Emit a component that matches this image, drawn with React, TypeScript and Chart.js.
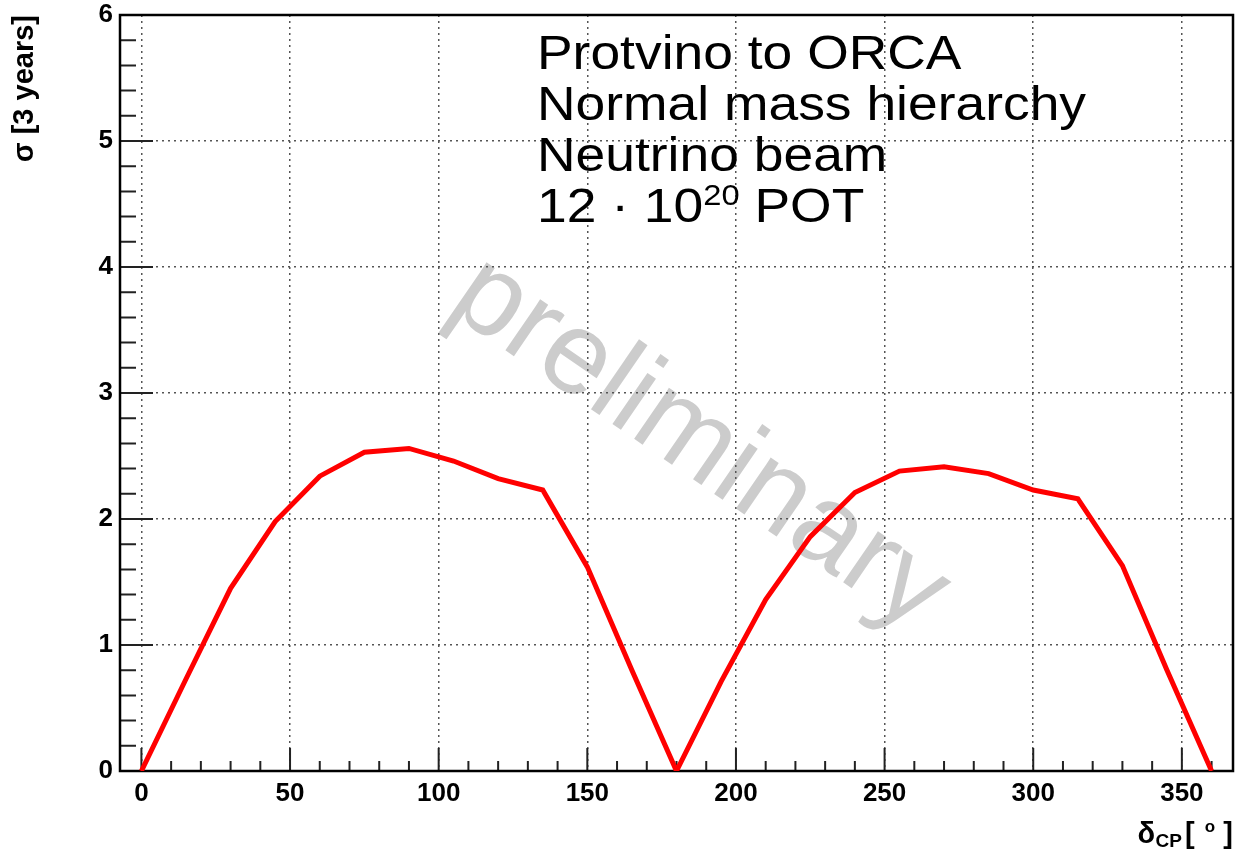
import React, { useEffect, useRef } from 'react';
import { Chart, registerables } from 'chart.js';

Chart.register(...registerables);

// ---- data ----
const deltaCP = [0, 15, 30, 45, 60, 75, 90, 105, 120, 135, 150, 165, 180, 195, 210, 225, 240, 255, 270, 285, 300, 315, 330, 345, 360];
const sigma = [0, 0.73, 1.45, 1.98, 2.34, 2.53, 2.56, 2.46, 2.32, 2.23, 1.62, 0.8, 0, 0.71, 1.36, 1.86, 2.21, 2.38, 2.415, 2.36, 2.23, 2.16, 1.63, 0.8, 0];

const xTickValues = [0, 50, 100, 150, 200, 250, 300, 350];
const yTickValues = [0, 1, 2, 3, 4, 5, 6];
const xMinorTicks = [10, 20, 30, 40, 60, 70, 80, 90, 110, 120, 130, 140, 160, 170, 180, 190, 210, 220, 230, 240, 260, 270, 280, 290, 310, 320, 330, 340, 360];
const yMinorTicks = [0.2, 0.4, 0.6, 0.8, 1.2, 1.4, 1.6, 1.8, 2.2, 2.4, 2.6, 2.8, 3.2, 3.4, 3.6, 3.8, 4.2, 4.4, 4.6, 4.8, 5.2, 5.4, 5.6, 5.8];

const annotationLines = ['Protvino to ORCA', 'Normal mass hierarchy', 'Neutrino beam'];
const potMantissa = '12 · 10';
const potExponent = '20';
const potUnit = ' POT';
const watermarkText = 'preliminary';
const yTitle = 'σ [3 years]';

const SANS = '"Liberation Sans", Arial, Helvetica, sans-serif';

function drawText(ctx: CanvasRenderingContext2D, text: string, x: number, y: number, font: string, sx = 1, align: CanvasTextAlign = 'left') {
  ctx.save();
  ctx.font = font;
  ctx.textAlign = align;
  ctx.textBaseline = 'alphabetic';
  ctx.translate(x, y);
  ctx.scale(sx, 1);
  ctx.fillText(text, 0, 0);
  const w = ctx.measureText(text).width * sx;
  ctx.restore();
  return w;
}

const rootPlugin = {
  id: 'rootStyle',
  beforeDraw(chart: any) {
    const { ctx, width, height } = chart;
    ctx.save();
    ctx.fillStyle = '#ffffff';
    ctx.fillRect(0, 0, width, height);
    // watermark
    ctx.translate(681, 471);
    ctx.rotate((34.5 * Math.PI) / 180);
    ctx.font = `117px ${SANS}`;
    ctx.fillStyle = '#cccccc';
    ctx.textAlign = 'center';
    ctx.textBaseline = 'alphabetic';
    ctx.fillText(watermarkText, 0, 0);
    ctx.restore();
  },
  beforeDatasetsDraw(chart: any) {
    const { ctx, chartArea } = chart;
    const xs = chart.scales.x;
    const ys = chart.scales.y;
    ctx.save();
    ctx.strokeStyle = '#222';
    ctx.lineWidth = 2;
    ctx.beginPath();
    xTickValues.forEach((v) => {
      const px = xs.getPixelForValue(v);
      ctx.moveTo(px, chartArea.bottom);
      ctx.lineTo(px, chartArea.bottom - 23);
    });
    xMinorTicks.forEach((v) => {
      const px = xs.getPixelForValue(v);
      ctx.moveTo(px, chartArea.bottom);
      ctx.lineTo(px, chartArea.bottom - 10);
    });
    yTickValues.forEach((v) => {
      const py = ys.getPixelForValue(v);
      ctx.moveTo(chartArea.left, py);
      ctx.lineTo(chartArea.left + 33, py);
    });
    yMinorTicks.forEach((v) => {
      const py = ys.getPixelForValue(v);
      ctx.moveTo(chartArea.left, py);
      ctx.lineTo(chartArea.left + 16, py);
    });
    ctx.stroke();
    // frame
    ctx.strokeStyle = '#000';
    ctx.lineWidth = 2.5;
    ctx.strokeRect(chartArea.left, chartArea.top, chartArea.right - chartArea.left, chartArea.bottom - chartArea.top);
    ctx.restore();
  },
  afterDraw(chart: any) {
    const { ctx } = chart;
    ctx.save();
    ctx.fillStyle = '#000';
    // annotation block
    const x0 = 537;
    const sx = 1.09;
    const bigFont = `49px ${SANS}`;
    const baselines = [69, 120, 171];
    annotationLines.forEach((t, i) => drawText(ctx, t, x0, baselines[i], bigFont, sx));
    let x = x0;
    x += drawText(ctx, potMantissa, x, 222, bigFont, sx);
    x += drawText(ctx, potExponent, x, 205, `30px ${SANS}`, sx);
    drawText(ctx, potUnit, x, 222, bigFont, sx);

    // y title (rotated)
    ctx.save();
    ctx.translate(33, 15);
    ctx.rotate(-Math.PI / 2);
    ctx.font = `bold 29px ${SANS}`;
    ctx.textAlign = 'right';
    ctx.textBaseline = 'alphabetic';
    ctx.fillText(yTitle, 0, 0);
    ctx.restore();

    // x title: δ_CP [ ° ]
    drawText(ctx, ']', 1233, 843, `bold 29px ${SANS}`, 1, 'right');
    drawText(ctx, 'o', 1210, 832, `bold 17px ${SANS}`, 1, 'center');
    drawText(ctx, '[', 1185, 843, `bold 29px ${SANS}`, 1, 'left');
    drawText(ctx, 'CP', 1182, 847, `bold 19px ${SANS}`, 1, 'right');
    drawText(ctx, 'δ', 1155, 843, `bold 29px ${SANS}`, 1, 'right');
    ctx.restore();
  },
};

export default function App() {
  const canvasRef = useRef<HTMLCanvasElement | null>(null);

  useEffect(() => {
    const canvas = canvasRef.current;
    if (!canvas) return;
    const tickFont = { family: SANS, size: 26, weight: 'bold' as const };
    const chart = new Chart(canvas, {
      type: 'line',
      data: {
        datasets: [
          {
            data: deltaCP.map((d, i) => ({ x: d, y: sigma[i] })),
            borderColor: '#ff0000',
            borderWidth: 5,
            pointRadius: 0,
            tension: 0,
            fill: false,
          },
        ],
      },
      options: {
        responsive: false,
        devicePixelRatio: 1,
        animation: false,
        layout: { padding: { top: 15, right: 5, left: 0, bottom: 0 } },
        plugins: {
          legend: { display: false },
          title: { display: false },
          tooltip: { enabled: false },
        },
        scales: {
          x: {
            type: 'linear',
            min: -7.2,
            max: 367.2,
            afterBuildTicks: (s: any) => {
              s.ticks = xTickValues.map((v) => ({ value: v }));
            },
            afterFit: (s: any) => {
              s.height = 80;
              s.paddingLeft = 0;
              s.paddingRight = 0;
            },
            grid: { color: '#555', lineWidth: 1.5, drawTicks: false },
            border: { display: false, dash: [2, 4] },
            ticks: { font: tickFont, color: '#000', padding: 7, maxRotation: 0, autoSkip: false },
          },
          y: {
            type: 'linear',
            min: 0,
            max: 6,
            afterBuildTicks: (s: any) => {
              s.ticks = yTickValues.map((v) => ({ value: v }));
            },
            afterFit: (s: any) => {
              s.width = 120;
              s.paddingTop = 0;
              s.paddingBottom = 0;
            },
            grid: { color: '#555', lineWidth: 1.5, drawTicks: false },
            border: { display: false, dash: [2, 4] },
            ticks: { font: tickFont, color: '#000', padding: 7, autoSkip: false },
          },
        },
      },
      plugins: [rootPlugin],
    });
    return () => chart.destroy();
  }, []);

  return (
    <div style={{ position: 'absolute', left: 0, top: 0, width: 1238, height: 851 }}>
      <canvas ref={canvasRef} width={1238} height={851} style={{ display: 'block' }} />
    </div>
  );
}
